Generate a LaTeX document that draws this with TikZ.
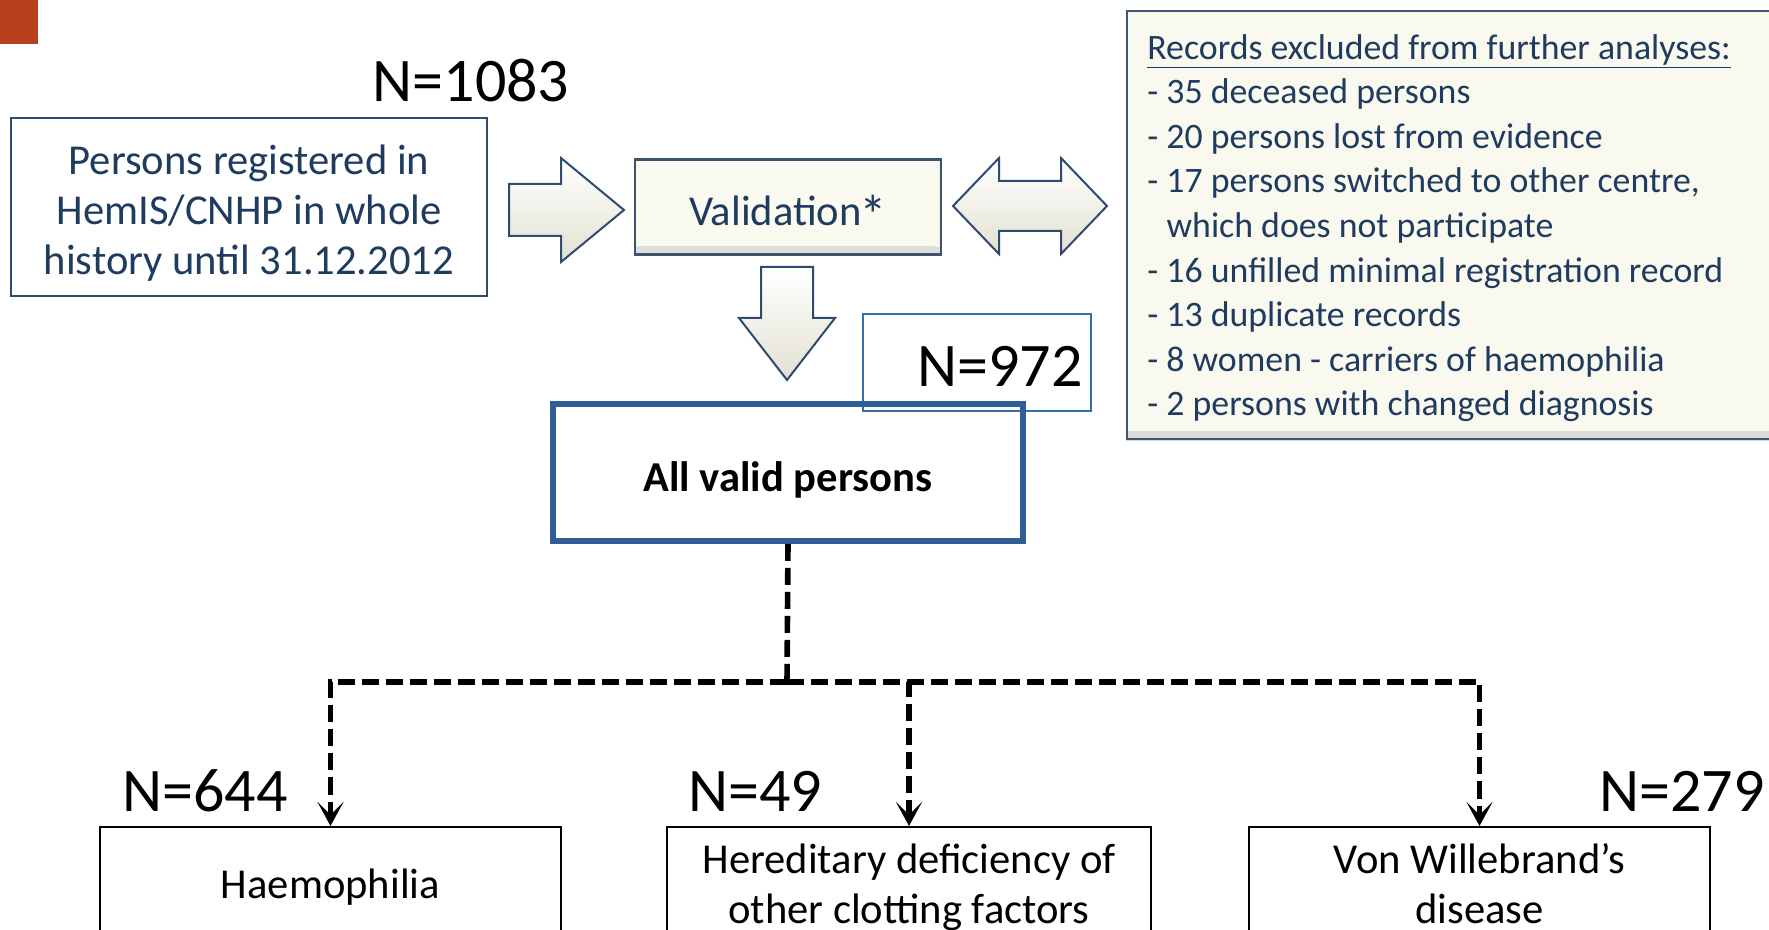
\documentclass[tikz,border=0pt]{standalone}
\usepackage{fontspec}
\setmainfont{Carlito}
\usetikzlibrary{arrows.meta,shadows}
\definecolor{navytext}{HTML}{1F3B5F}
\definecolor{regedge}{HTML}{2F4B6E}
\definecolor{valedge}{HTML}{3D536B}
\definecolor{valfill}{HTML}{FBFAF1}
\definecolor{arrowedge}{HTML}{2F4B6E}
\definecolor{arrowdark}{HTML}{E3E1D3}
\definecolor{nedge}{HTML}{3B6FA6}
\definecolor{alledge}{HTML}{2E5E93}
\definecolor{exfill}{HTML}{FAF9EF}
\definecolor{exedge}{HTML}{3F5772}
\definecolor{cornerfill}{HTML}{B7411E}
\newcommand\fmain{\fontsize{21.3}{25}\selectfont}
\newcommand\fex{\fontsize{17.9}{22.3}\selectfont}
\newcommand\fbig{\fontsize{31}{37}\selectfont}
\newcommand\bigast{\kern-1.2pt\raisebox{-4.5pt}{\scalebox{1.3}{*}}}
\tikzset{
  bevel/.style={path picture={
     \shade[top color=#1, bottom color=black!14]
        ([yshift=4pt]path picture bounding box.south west) rectangle (path picture bounding box.south east);
     \shade[left color=#1, right color=black!8]
        ([xshift=-3pt]path picture bounding box.north east) rectangle ([yshift=4pt]path picture bounding box.south east);}},
  regbox/.style={draw=regedge, line width=1pt, inner sep=0pt},
  valbox/.style={draw=valedge, line width=1.1pt, fill=valfill, inner sep=0pt, bevel=valfill},
  exbox/.style={draw=exedge, line width=1.1pt, fill=exfill, inner sep=0pt, bevel=exfill,
     drop shadow={shadow xshift=-0.8pt, shadow yshift=-1pt, opacity=0.3}},
  navytxt/.style={text=navytext, align=center, inner sep=0pt, font=\fmain},
  extxt/.style={text=navytext, align=left, inner sep=0pt, font=\fex},
  blacktxt/.style={text=black, align=center, inner sep=0pt, font=\fmain},
  blockarrow/.style={draw=arrowedge, line width=1pt, top color=white, bottom color=arrowdark, line join=miter},
  nlabel/.style={text=black, inner sep=0pt, font=\fbig},
  nbox/.style={draw=nedge, line width=0.8pt, inner sep=0pt},
  allbox/.style={draw=alledge, line width=2.8pt, inner sep=0pt},
  catbox/.style={draw=black, line width=1pt, inner sep=0pt},
  dashconn/.style={draw=black, line width=2.8pt, dash pattern=on 8.5pt off 3.5pt},
  tipconn/.style={dashconn, -{Stealth[length=12pt,width=13pt,inset=6.5pt]}}
}
\begin{document}
\begin{tikzpicture}[x=0.5pt,y=-0.5pt]
\useasboundingbox (0,0) rectangle (1769,930);
\clip (0,0) rectangle (1769,930);
\fill[white] (0,0) rectangle (1769,930);

\node[fill=cornerfill, minimum width=19pt, minimum height=22pt, inner sep=0pt, anchor=north west] (corner) at (0,0) {};

\node[nlabel] (n1083) at (471,81) {N=1083};

\node[regbox, minimum width=238pt, minimum height=89pt] (reg) at (249,207) {};
\node[navytxt] (regt) at ([yshift=-3pt]reg.center)
  {Persons registered in\\HemIS/CNHP in whole\\history until 31.12.2012};

\node[valbox, minimum width=153pt, minimum height=47.5pt] (val) at (788,207) {};
\node[navytxt, anchor=base] (valt) at ([yshift=-9.3pt]val.center) {Validation\bigast};

\node[exbox, anchor=north west, minimum width=340pt, minimum height=214pt] (excl) at (1126,10) {};
\node[extxt, anchor=west] (exclt) at ([xshift=10.5pt,yshift=-1.5pt]excl.west)
  {\underline{Records excluded from further analyses:}\\
   - 35 deceased persons\\
   - 20 persons lost from evidence\\
   - 17 persons switched to other centre,\\
   \hspace*{9.6pt}which does not participate\\
   - 16 unfilled minimal registration record\\
   - 13 duplicate records\\
   - 8 women - carriers of haemophilia\\
   - 2 persons with changed diagnosis};

% block arrows
\draw[blockarrow] (509,184) -- (561,184) -- (561,158) -- (624,210) -- (561,262) -- (561,236) -- (509,236) -- cycle;
\draw[blockarrow] (953,206) -- (999,158) -- (999,181) -- (1061,181) -- (1061,158) -- (1107,206)
   -- (1061,254) -- (1061,231) -- (999,231) -- (999,254) -- cycle;
\draw[blockarrow] (761,267) -- (813,267) -- (813,318) -- (835,318) -- (787,380) -- (739,318) -- (761,318) -- cycle;

\node[nbox, minimum width=114pt, minimum height=48.5pt] (n972) at (977,362.5) {};
\node[nlabel, anchor=east] (n972t) at ([xshift=-4.5pt,yshift=-2pt]n972.east) {N=972};

\node[allbox, minimum width=235pt, minimum height=68.5pt] (all) at (788,472.5) {};
\node[blacktxt, font=\fmain\bfseries] (allt) at ([yshift=-3.5pt]all.center) {All valid persons};

\node[catbox, minimum width=230.5pt, minimum height=56pt] (haem) at (330.5,883) {};
\node[blacktxt] (haemt) at ([yshift=-2.2pt]haem.center) {Haemophilia};
\node[catbox, minimum width=242pt, minimum height=56pt] (hered) at (909,883) {};
\node[blacktxt] (heredt) at ([yshift=-2.2pt]hered.center) {Hereditary deficiency of\\other clotting factors};
\node[catbox, minimum width=230.5pt, minimum height=56pt] (vwd) at (1479.5,883) {};
\node[blacktxt] (vwdt) at ([yshift=-2.2pt]vwd.center) {Von Willebrand’s\\disease\vphantom{g}};

\node[nlabel] (n644) at (205,791) {N=644};
\node[nlabel] (n49) at (755,791) {N=49};
\node[nlabel] (n279) at (1682,791) {N=279};

\coordinate (split) at (787,682);
\draw[dashconn] (all.south) -- (split);
\draw[tipconn] (split) -| (haem.north);
\draw[tipconn] (split) -| (hered.north);
\draw[tipconn] (split) -| (vwd.north);
\end{tikzpicture}
\end{document}
